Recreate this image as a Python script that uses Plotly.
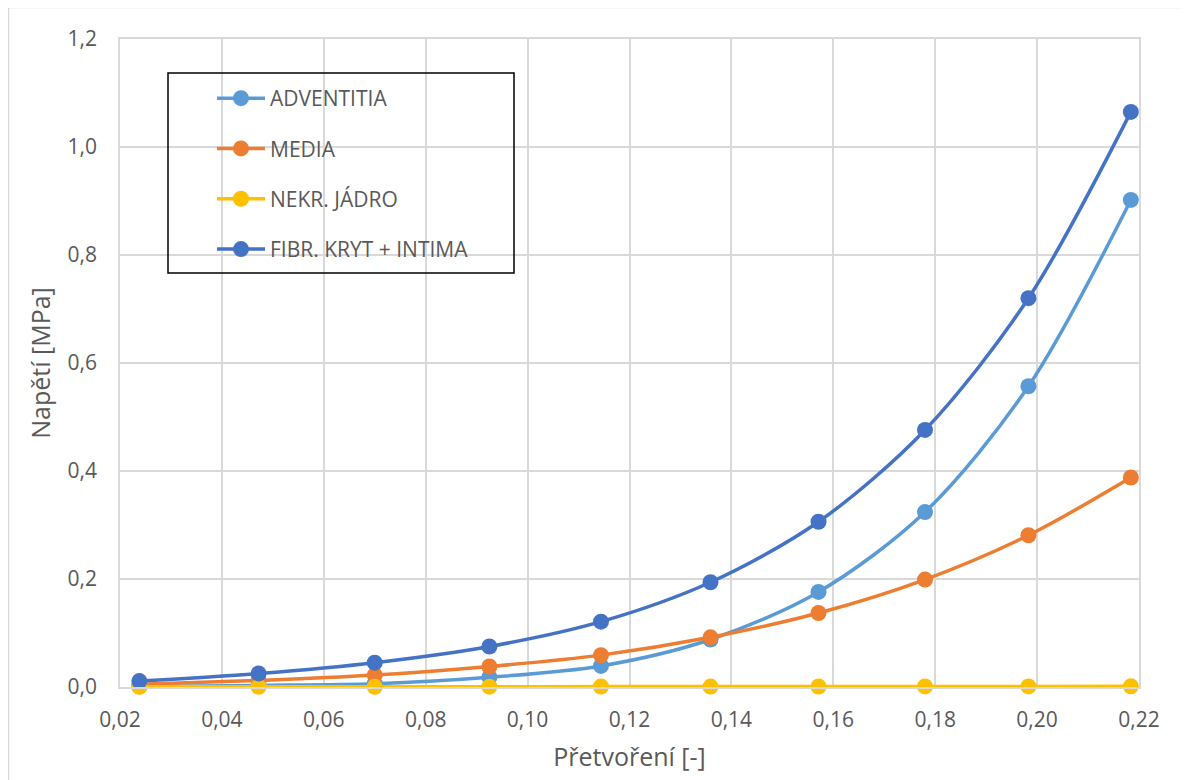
import plotly.graph_objects as go

# ---- data ----
strain = [0.0238, 0.0472, 0.0700, 0.0925, 0.1144, 0.1359, 0.1571, 0.1780, 0.1983, 0.2184]
adventitia = [0.001, 0.003, 0.006, 0.018, 0.039, 0.088, 0.176, 0.324, 0.557, 0.902]
media = [0.005, 0.012, 0.022, 0.038, 0.059, 0.092, 0.137, 0.199, 0.281, 0.388]
nekr_jadro = [0.0003, 0.0004, 0.0005, 0.0006, 0.0007, 0.0008, 0.0009, 0.001, 0.0011, 0.0012]
fibr_kryt = [0.011, 0.025, 0.045, 0.075, 0.121, 0.194, 0.306, 0.476, 0.720, 1.065]

series_names = ["ADVENTITIA", "MEDIA", "NEKR. JÁDRO", "FIBR. KRYT + INTIMA"]
series_values = [adventitia, media, nekr_jadro, fibr_kryt]
series_colors = ["#5B9BD5", "#ED7D31", "#FFC000", "#4472C4"]

x_title = "Přetvoření [-]"
y_title = "Napětí [MPa]"

# ---- layout geometry (figure pixels; page body adds an 8px offset) ----
W, H = 1190, 780
L, R, T, B = 112, 1131, 31, 679

def px_x(p):
    return (p - L) / (R - L)

def px_y(p):
    return (B - p) / (B - T)

FONT = "Open Sans"
GRAY_TXT = "#595959"
GRID = "#D9D9D9"

fig = go.Figure()
for i, (name, vals, col) in enumerate(zip(series_names, series_values, series_colors)):
    fig.add_trace(go.Scatter(
        x=strain, y=vals, name=name, mode="lines+markers",
        line=dict(color=col, width=3.5, shape="spline", smoothing=0.9),
        marker=dict(color=col, size=16),
        legendgroup=f"g{i}",
        cliponaxis=False,
    ))

fig.update_layout(
    width=W, height=H,
    margin=dict(l=L, r=W - R, t=T, b=H - B, autoexpand=False),
    paper_bgcolor="white", plot_bgcolor="white",
    separators=", ",
    font=dict(family=FONT, color=GRAY_TXT, size=21),
    showlegend=True,
    legend=dict(
        x=px_x(204), y=px_y(70), xanchor="left", yanchor="top",
        bgcolor="rgba(0,0,0,0)", borderwidth=0,
        font=dict(family=FONT, size=21, color=GRAY_TXT),
        traceorder="grouped", tracegroupgap=20,
        itemwidth=48,
    ),
    xaxis=dict(
        range=[0.02, 0.22], dtick=0.02, tick0=0.02, tickformat=".2f",
        showgrid=True, gridcolor=GRID, gridwidth=1.5,
        showline=True, linecolor=GRID, linewidth=1.5, mirror=True,
        zeroline=False, ticks="", ticklabelstandoff=13,
        tickfont=dict(size=21, color=GRAY_TXT),
        title=dict(text=x_title, font=dict(size=25, color=GRAY_TXT), standoff=17),
        automargin=False,
    ),
    yaxis=dict(
        range=[0, 1.2], dtick=0.2, tickformat=".1f",
        showgrid=True, gridcolor=GRID, gridwidth=1.5,
        showline=True, linecolor=GRID, linewidth=1.5, mirror=True,
        zeroline=False, ticks="", ticklabelstandoff=17,
        tickfont=dict(size=21, color=GRAY_TXT),
        title=dict(text=y_title, font=dict(size=25, color=GRAY_TXT), standoff=10),
        automargin=False,
    ),
    shapes=[
        # legend box
        dict(type="rect", xref="paper", yref="paper",
             x0=px_x(160), x1=px_x(506), y0=px_y(265), y1=px_y(65),
             line=dict(color="black", width=1.5), fillcolor="rgba(0,0,0,0)", layer="above"),
        # outer chart border
        dict(type="rect", xref="paper", yref="paper",
             x0=px_x(0.5), x1=px_x(1200), y0=px_y(800), y1=px_y(-0.5),
             line=dict(color=GRID, width=1.5), fillcolor="rgba(0,0,0,0)", layer="below"),
    ],
)

fig.write_html("out.html")
